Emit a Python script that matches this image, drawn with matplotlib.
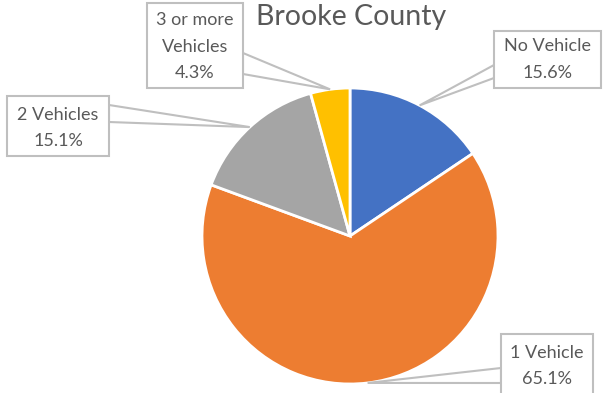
import matplotlib
matplotlib.use("Agg")
import matplotlib.pyplot as plt
from matplotlib.patches import Polygon, Rectangle
import numpy as np

title = "Brooke County"
categories = ["No Vehicle", "1 Vehicle", "2 Vehicles", "3 or more\nVehicles"]
values = [15.6, 65.1, 15.1, 4.3]
pct_labels = ["15.6%", "65.1%", "15.1%", "4.3%"]
colors = ["#4472C4", "#ED7D31", "#A5A5A5", "#FFC000"]

W, H = 607, 393
fig = plt.figure(figsize=(W / 100, H / 100), dpi=100)
plt.rcParams['font.family'] = ['Lato', 'DejaVu Sans']

# pie geometry in pixels
cx, cy, R = 350, 236, 148
ax = fig.add_axes([(cx - R) / W, (H - cy - R) / H, 2 * R / W, 2 * R / H])
wedges, _ = ax.pie(values, colors=colors, startangle=90, counterclock=False,
                   radius=1, wedgeprops=dict(edgecolor="white", linewidth=2))
ax.set_xlim(-1, 1)
ax.set_ylim(-1, 1)
ax.set_aspect("equal")
ax.axis("off")

# overlay axes in pixel coords
ov = fig.add_axes([0, 0, 1, 1], zorder=5)
ov.set_xlim(0, W)
ov.set_ylim(H, 0)
ov.axis("off")

ov.text(cx + 1, 17, title, ha="center", va="center", fontsize=20.5, color="#595959")

# box layout: (x0, y0, x1, y1), callout base side & y-range
boxes = [
    ((494, 31, 601, 88), 494, (65, 78)),
    ((501, 334, 593, 400), 501, (368, 383)),
    ((7, 96, 109, 156), 109, (105, 122)),
    ((147, 3, 243, 88), 243, (53, 74)),
]
text_tops = [46, 353, 115, 20]

cum = 0.0
total = sum(values)
for i, (cat, pct) in enumerate(zip(categories, pct_labels)):
    mid = 90 - (cum + values[i] / 2) / total * 360
    cum += values[i]
    ax_pt = (cx + R * np.cos(np.radians(mid)), cy - R * np.sin(np.radians(mid)))
    (x0, y0, x1, y1), bx, (ya, yb) = boxes[i]
    poly = Polygon([(bx, ya), ax_pt, (bx, yb)], closed=True, facecolor="white",
                   edgecolor="#BFBFBF", linewidth=1.5, zorder=1)
    ov.add_patch(poly)
    rect = Rectangle((x0, y0), x1 - x0, y1 - y0, facecolor="white",
                     edgecolor="#BFBFBF", linewidth=1.5, zorder=2)
    ov.add_patch(rect)
    lines = cat.split("\n") + [pct]
    ccx = (x0 + x1) / 2
    for k, ln in enumerate(lines):
        ov.text(ccx, text_tops[i] + 26.5 * k, ln, ha="center", va="center",
                fontsize=13, color="#595959", zorder=3)

fig.savefig("out.png", dpi=100)
